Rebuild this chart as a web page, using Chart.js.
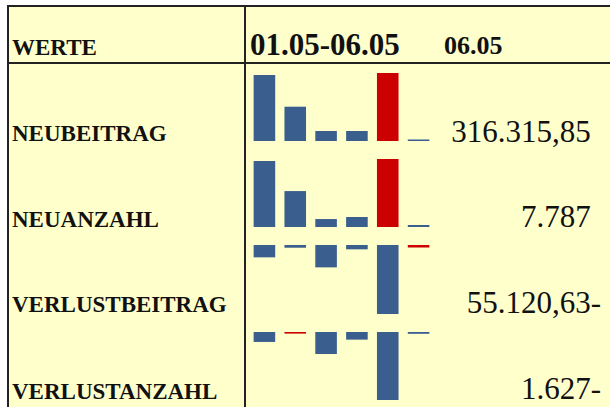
<!DOCTYPE html>
<html>
<head>
<meta charset="utf-8">
<script src="https://cdn.jsdelivr.net/npm/chart.js@4"></script>
<style>
  html, body { margin: 0; padding: 0; background: #fff; overflow: hidden; }
  body { width: 610px; height: 407px; position: relative; font-family: "Liberation Serif", "Times New Roman", serif; color: #111; }
  #tbl { position: absolute; left: 7px; top: 5px; width: 700px; height: 500px; background: #FFFFCC;
         border-top: 2px solid #222; border-left: 2px solid #222; }
  .hline { position: absolute; left: 7px; top: 62px; width: 700px; height: 2px; background: #222; }
  .vline { position: absolute; left: 244px; top: 5px; width: 2px; height: 500px; background: #222; }
  .t { position: absolute; line-height: 1; white-space: nowrap; }
  .lbl { font-weight: bold; font-size: 23px; left: 12px; }
  .num { font-size: 31px; right: 9px; text-align: right; }
  .num .pad { visibility: hidden; }
  canvas { position: absolute; left: 249px; }
</style>
</head>
<body>
<div id="tbl"></div>
<div class="hline"></div>
<div class="vline"></div>
<div class="t lbl" style="top:36px">WERTE</div>
<div class="t" style="left:250px; top:29px; font-weight:bold; font-size:31px">01.05-06.05</div>
<div class="t" style="left:444px; top:33px; font-weight:bold; font-size:26px">06.05</div>
<div id="rows"></div>

<script>
const tage = ['01.05', '02.05', '03.05', '04.05', '05.05', '06.05'];
const zeilen = ['NEUBEITRAG', 'NEUANZAHL', 'VERLUSTBEITRAG', 'VERLUSTANZAHL'];
const neubeitrag = [13780000, 7160000, 2090000, 2090000, 14200000, 316315.85];
const neuanzahl = [257000, 140000, 31000, 39000, 265000, 7787];
const verlustbeitrag = [-271000, -60000, -491000, -95000, -1515000, -55120.63];
const verlustanzahl = [-9000, -1450, -19900, -6900, -61500, -1627];
const dezimalen = [2, 0, 2, 0];

const serien = [neubeitrag, neuanzahl, verlustbeitrag, verlustanzahl];
// row layout (canvas top/height, text baselines)
const lagen = [
  { top: 73, h: 68, base: 141.5 },
  { top: 159, h: 68, base: 226.8 },
  { top: 245, h: 69, base: 312.5 },
  { top: 332, h: 68, base: 399 }
];

function fmt(v, d) {
  const abs = Math.abs(v);
  let [ganz, frac] = abs.toFixed(d).split('.');
  ganz = ganz.replace(/\B(?=(\d{3})+(?!\d))/g, '.');
  return ganz + (frac ? ',' + frac : '');
}

const rows = document.getElementById('rows');
serien.forEach((werte, i) => {
  const l = lagen[i];
  const lbl = document.createElement('div');
  lbl.className = 't lbl';
  lbl.style.top = (l.base - 0.8375 * 23) + 'px';
  lbl.textContent = zeilen[i];
  rows.appendChild(lbl);

  const last = werte[werte.length - 1];
  const num = document.createElement('div');
  num.className = 't num';
  num.style.top = (l.base - 0.8375 * 31) + 'px';
  num.innerHTML = fmt(last, dezimalen[i]) + (last < 0 ? '-' : '<span class="pad">-</span>');
  rows.appendChild(num);

  const cv = document.createElement('canvas');
  cv.width = 185; cv.height = l.h;
  cv.style.top = l.top + 'px';
  rows.appendChild(cv);

  const maxV = Math.max(...werte);
  const minV = Math.min(...werte);
  const farben = werte.map(v => v === maxV ? '#CC0000' : '#3A5E8E');

  new Chart(cv.getContext('2d'), {
    type: 'bar',
    data: {
      labels: tage,
      datasets: [{
        data: werte,
        backgroundColor: farben,
        borderWidth: 0,
        barPercentage: 0.7,
        categoryPercentage: 1
      }]
    },
    options: {
      responsive: false,
      animation: false,
      events: [],
      layout: { padding: 0 },
      plugins: { legend: { display: false }, tooltip: { enabled: false } },
      scales: {
        x: { display: false },
        y: { display: false, min: minV < 0 ? minV : 0, max: maxV > 0 ? maxV : 0 }
      }
    }
  });
});
</script>
</body>
</html>
